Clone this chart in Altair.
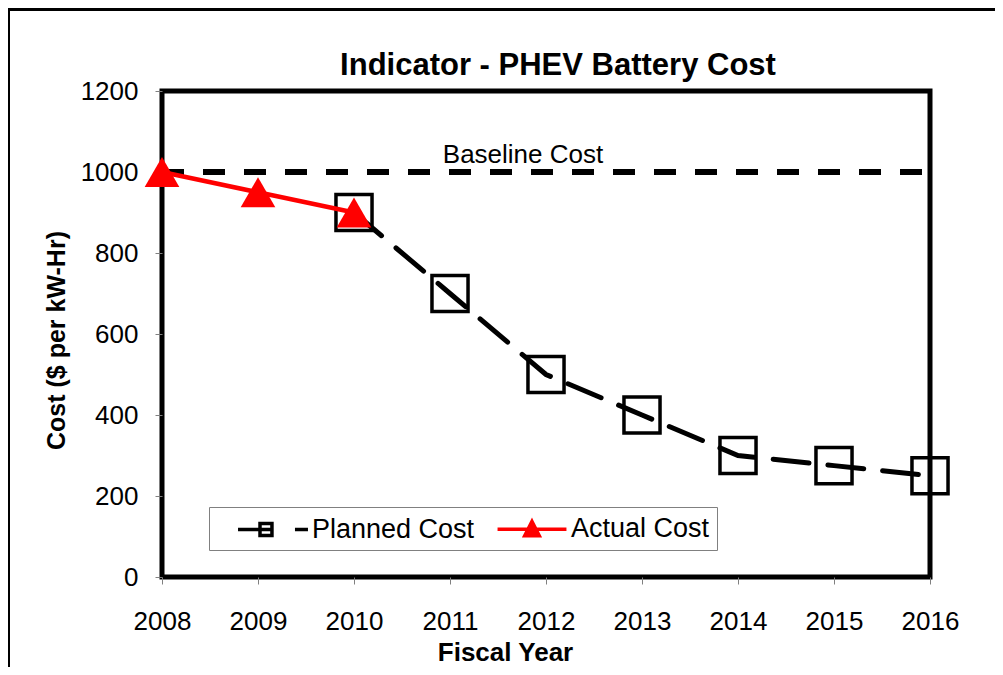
import altair as alt
import pandas as pd

# ---- data ----
years_planned = [2010, 2011, 2012, 2013, 2014, 2015, 2016]
cost_planned = [900, 700, 500, 400, 300, 275, 250]
years_actual = [2008, 2009, 2010]
cost_actual = [1000, 950, 900]
baseline_years = [2008, 2016]
baseline_cost = [1000, 1000]
baseline_label = ["Baseline Cost"]
baseline_label_year = [2012]
series_names = ["Planned Cost", "Actual Cost"]
x_ticks = [2008, 2009, 2010, 2011, 2012, 2013, 2014, 2015, 2016]
y_ticks = [0, 200, 400, 600, 800, 1000, 1200]

FONT = "Liberation Sans"
W, H = 768, 486

planned = pd.DataFrame({"year": years_planned, "cost": cost_planned})
actual = pd.DataFrame({"year": years_actual, "cost": cost_actual})
base = pd.DataFrame({"year": baseline_years, "cost": baseline_cost})
label_df = pd.DataFrame({"year": baseline_label_year, "cost": [baseline_cost[0]], "text": baseline_label})
legend_df = pd.DataFrame({"series": series_names})
frame_df = pd.DataFrame({"k": [0]})

x_enc = alt.X(
    "year:Q",
    scale=alt.Scale(domain=[2008, 2016], nice=False, zero=False),
    axis=alt.Axis(
        values=x_ticks, format="d", title="Fiscal Year", grid=False, domain=False,
        tickColor="#808080", tickWidth=1, tickSize=7, labelFlush=False, labelOverlap=False,
        labelFont=FONT, labelFontSize=26, labelColor="black", labelPadding=24,
        titleFont=FONT, titleFontSize=26, titleFontWeight="bold", titleColor="black",
        titleX=343, titleY=83, titleAlign="center", titleBaseline="alphabetic",
    ),
)
y_enc = alt.Y(
    "cost:Q",
    scale=alt.Scale(domain=[0, 1200], nice=False),
    axis=alt.Axis(
        values=y_ticks, format="d", title="Cost ($ per kW-Hr)", grid=False, domain=False,
        tickColor="#808080", tickWidth=1, tickSize=7, labelFlush=False, labelOverlap=False,
        labelFont=FONT, labelFontSize=26, labelColor="black", labelPadding=17,
        titleFont=FONT, titleFontSize=25, titleFontWeight="bold", titleColor="black",
        titleX=-98, titleY=249, titleAlign="center", titleBaseline="alphabetic", titleAngle=270,
    ),
)

frame = alt.Chart(frame_df).mark_rect(
    fill="transparent", stroke="black", strokeWidth=3, clip=False
).encode(
    x=alt.value(-153.5), x2=alt.value(W + 200), y=alt.value(-81.5), y2=alt.value(H + 200)
)

baseline = alt.Chart(base).mark_line(
    color="black", strokeWidth=6, strokeDash=[22, 19]
).encode(x=x_enc, y=y_enc)

planned_line = alt.Chart(planned).mark_line(
    color="black", strokeWidth=5, strokeDash=[36, 19], strokeCap="round"
).encode(x=x_enc, y=y_enc)

planned_pts = alt.Chart(planned).mark_point(
    shape="square", size=1300, filled=False, stroke="black", strokeWidth=3.5, opacity=1
).encode(x=x_enc, y=y_enc)

actual_line = alt.Chart(actual).mark_line(
    color="red", strokeWidth=4.5
).encode(x=x_enc, y=y_enc)

actual_pts = alt.Chart(actual).mark_point(
    shape="triangle-up", size=1200, filled=True, color="red", opacity=1
).encode(x=x_enc, y=y_enc)

label = alt.Chart(label_df).mark_text(
    font=FONT, fontSize=26, color="black", align="center", baseline="alphabetic", dx=-23, dy=-9
).encode(x=x_enc, y=y_enc, text="text:N")

path_planned = "M-2.69,0H-0.08M-1,-0.46H-0.08V0.46H-1ZM1.69,0H2.69"
path_actual = "M-2.65,0H2.65M0,-0.6L0.56,0.5H-0.56Z"

leg = alt.Legend(
    title=None, orient="none", legendX=47, legendY=416, direction="horizontal", columns=2,
    padding=7, strokeColor="#808080", fillColor="white",
    symbolSize=676, symbolStrokeWidth=3.5, symbolOffset=42, labelOffset=24,
    symbolOpacity=1, labelLimit=400,
    labelFont=FONT, labelFontSize=27, labelColor="black", columnPadding=-16,
)

legend_layer = alt.Chart(legend_df).transform_filter("false").mark_point(
    filled=True, size=676, strokeWidth=3.5, opacity=1
).encode(
    shape=alt.Shape("series:N", scale=alt.Scale(domain=series_names, range=[path_planned, path_actual]), legend=leg),
    stroke=alt.Stroke("series:N", scale=alt.Scale(domain=series_names, range=["black", "red"]), legend=leg),
    fill=alt.Fill("series:N", scale=alt.Scale(domain=series_names, range=["transparent", "red"]), legend=leg),
)

chart = alt.layer(
    frame, baseline, planned_line, planned_pts, actual_line, actual_pts, label, legend_layer
).properties(
    width=W, height=H,
    background="white",
    title=alt.TitleParams(
        "Indicator - PHEV Battery Cost", font=FONT, fontSize=31, fontWeight="bold",
        color="black", anchor="middle", frame="group", dx=12, offset=-98, baseline="alphabetic",
    ),
    autosize=alt.AutoSizeParams(type="none"),
    padding={"left": 154, "top": 83, "right": 65, "bottom": 90},
).configure_view(
    stroke="black", strokeWidth=5
)

chart.save("out.html", embed_options={"renderer": "svg", "actions": False})
